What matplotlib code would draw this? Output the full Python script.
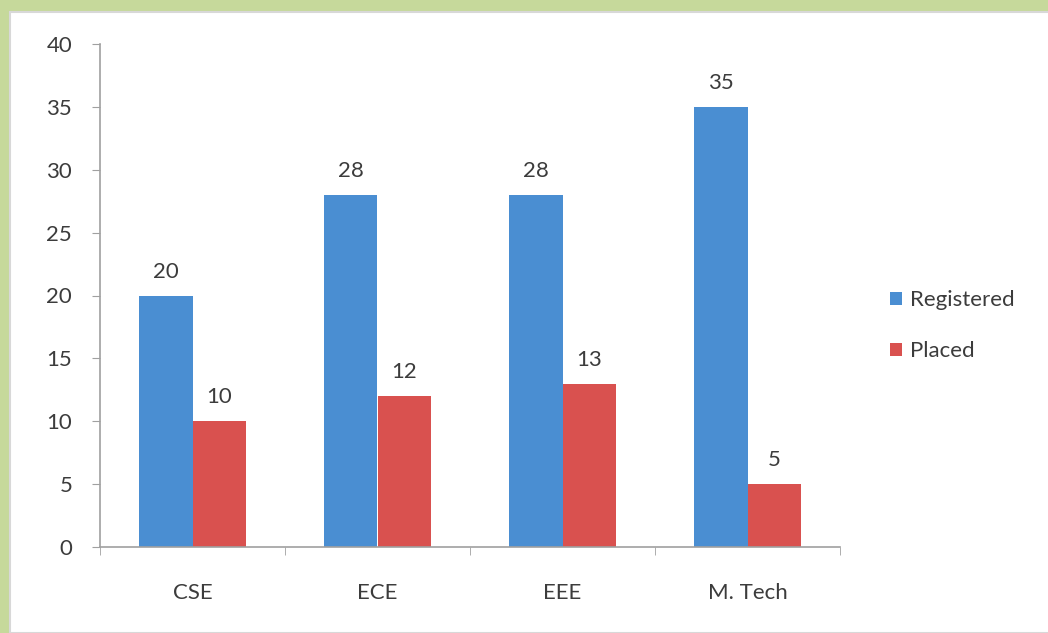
import numpy as np
import matplotlib.pyplot as plt
from matplotlib.patches import Rectangle

# Placement counts per branch
branches = ["CSE", "ECE", "EEE", "M. Tech"]
registered = [20, 28, 28, 35]
placed = [10, 12, 13, 5]
y_ticks = [0, 5, 10, 15, 20, 25, 30, 35, 40]

plt.rcParams['font.family'] = ['Lato', 'DejaVu Sans']
txt = "#3c3c3c"

fig = plt.figure(figsize=(10.48, 6.33), dpi=100, facecolor="#c6d99b")
# white slide panel inside the green frame
fig.add_artist(Rectangle((10 / 1048, 0), 1, 1 - 12 / 633,
                         transform=fig.transFigure, facecolor="white",
                         edgecolor="#d8d8d8", lw=1.5, zorder=-10))

ax = fig.add_axes([100 / 1048, 1 - 547 / 633, 740 / 1048, 503 / 633])
ax.set_facecolor("none")
ax.set_zorder(5)

x = np.arange(len(branches))
w = 0.287
b1 = ax.bar(x - w / 2, registered, w, color="#4a8ed2", label="Registered")
b2 = ax.bar(x + w / 2, placed, w, color="#d9514f", label="Placed")

for bars in (b1, b2):
    for rect in bars:
        h = rect.get_height()
        ax.annotate(f"{h:g}", (rect.get_x() + rect.get_width() / 2, h),
                    xytext=(0, 10), textcoords="offset points",
                    ha="center", va="bottom", fontsize=16, color=txt)

ax.set_xlim(-0.5, len(branches) - 0.5)
ax.set_ylim(0, 40)
ax.set_yticks(y_ticks)
ax.set_xticks(x)
ax.set_xticklabels(branches)
ax.set_xticks(np.arange(len(branches) + 1) - 0.5, minor=True)
ax.tick_params(axis="x", which="major", length=0, pad=26)
ax.tick_params(axis="x", which="minor", length=6, color="#a0a0a0", direction="out")
ax.tick_params(axis="y", length=6, color="#a0a0a0", pad=14)
ax.tick_params(labelsize=16, labelcolor=txt)

for s in ("top", "right"):
    ax.spines[s].set_visible(False)
for s in ("left", "bottom"):
    ax.spines[s].set_color("#a0a0a0")
    ax.spines[s].set_linewidth(1.2)

ax.legend(loc="center left", bbox_to_anchor=(1.04, 0.44), frameon=False,
          fontsize=16, handlelength=0.55, handleheight=0.55, handletextpad=0.35,
          labelspacing=1.4, labelcolor=txt)

fig.savefig("out.png", dpi=100, facecolor=fig.get_facecolor())
